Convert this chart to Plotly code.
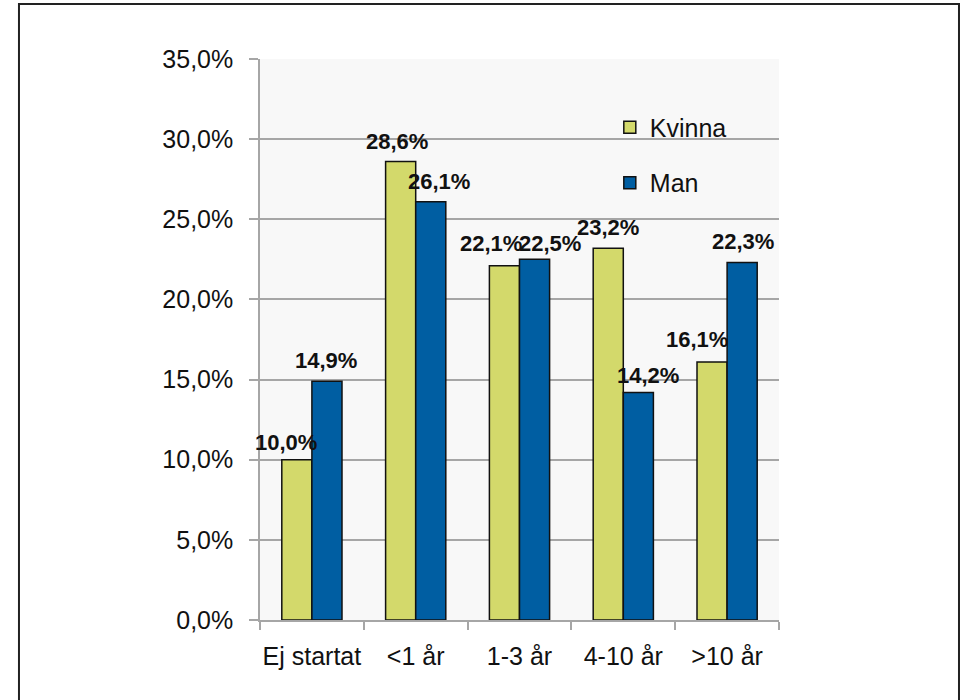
import plotly.graph_objects as go

categories = ["Ej startat", "<1 år", "1-3 år", "4-10 år", ">10 år"]
kvinna = [10.0, 28.6, 22.1, 23.2, 16.1]
man = [14.9, 26.1, 22.5, 14.2, 22.3]
y_ticks = [0, 5, 10, 15, 20, 25, 30, 35]
y_tick_text = ["0,0%", "5,0%", "10,0%", "15,0%", "20,0%", "25,0%", "30,0%", "35,0%"]

FONT = "Arial, Liberation Sans, sans-serif"
C_K = "#D3D96B"
C_M = "#005EA2"

fig = go.Figure()
fig.add_trace(go.Bar(name="Kvinna", x=categories, y=kvinna,
                     marker=dict(color=C_K, line=dict(color="#111", width=1.5)), legendgroup="k"))
fig.add_trace(go.Bar(name="Man", x=categories, y=man,
                     marker=dict(color=C_M, line=dict(color="#111", width=1.5)), legendgroup="m"))

# label offsets (px) relative to category centre / bar top
k_shift = [-26, -19, -29, -15, -30]
m_shift = [14, 23, 30, 25, 16]
k_yshift = [17, 20, 22, 21, 22]
m_yshift = [21, 20, 16, 17, 21]
ann = []
for i, c in enumerate(categories):
    ann.append(dict(x=c, y=kvinna[i], text="<b>" + f"{kvinna[i]:.1f}%".replace(".", ",") + "</b>",
                    showarrow=False, xshift=k_shift[i], yshift=k_yshift[i],
                    font=dict(family=FONT, size=22, color="#111"), xref="x", yref="y"))
    ann.append(dict(x=c, y=man[i], text="<b>" + f"{man[i]:.1f}%".replace(".", ",") + "</b>",
                    showarrow=False, xshift=m_shift[i], yshift=m_yshift[i],
                    font=dict(family=FONT, size=22, color="#111"), xref="x", yref="y"))

fig.update_layout(
    width=961, height=700,
    margin=dict(l=260, r=182, t=59, b=80, autoexpand=False),
    paper_bgcolor="white", plot_bgcolor="#F8F8F8",
    barmode="group", bargap=0.42, bargroupgap=0,
    font=dict(family=FONT, size=25, color="#111"),
    showlegend=True,
    legend=dict(x=0.674, y=0.919, xanchor="left", yanchor="top", bgcolor="rgba(0,0,0,0)",
                font=dict(size=25, family=FONT), tracegroupgap=20, traceorder="grouped"),
    annotations=ann,
    shapes=[dict(type="rect", xref="paper", yref="paper", x0=-0.4644, x1=1.3468, y0=-0.2, y1=1.098,
                 line=dict(color="#222", width=2), fillcolor="rgba(0,0,0,0)", layer="below")],
)
fig.update_yaxes(range=[0, 35], tickvals=y_ticks, ticktext=y_tick_text, automargin=False,
                 showgrid=True, gridcolor="#A6A6A6", gridwidth=1.5,
                 showline=True, linecolor="#A6A6A6", linewidth=1.5,
                 ticks="outside", ticklen=9, tickcolor="#A6A6A6", tickwidth=1.5,
                 ticklabelstandoff=11,
                 tickfont=dict(size=25, family=FONT), zeroline=False)
fig.update_xaxes(range=[-0.5, len(categories) - 0.5], showline=True, linecolor="#A6A6A6", linewidth=1.5,
                 automargin=False, tickangle=0,
                 ticks="outside", ticklen=8, tickcolor="#A6A6A6", tickwidth=1.5, tickson="boundaries",
                 ticklabelstandoff=13,
                 tickfont=dict(size=25, family=FONT), showgrid=False)

fig.write_html("out.html", config={"displayModeBar": False},
               post_script="document.body.style.margin='0';")
